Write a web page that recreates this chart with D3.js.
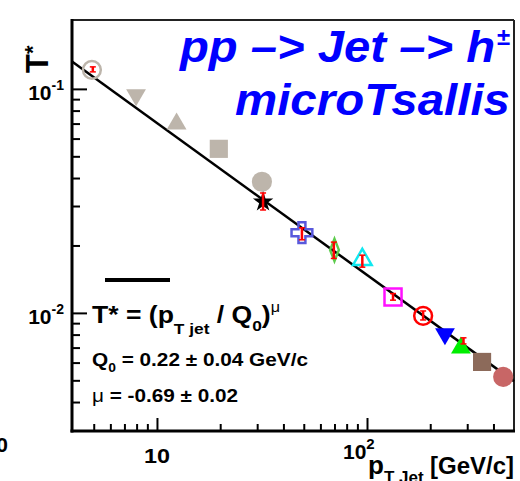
<!DOCTYPE html>
<html>
<head>
<meta charset="utf-8">
<script src="https://cdn.jsdelivr.net/npm/d3@7"></script>
<style>
  body { margin: 0; background: #fff; }
  svg { display: block; font-family: "Liberation Sans", Arial, Helvetica, sans-serif; font-weight: bold; }
</style>
</head>
<body>
<div class="container"></div>
<script>
// data
var pt    = [4.9, 7.95, 12.4, 19.7, 31.6, 32, 49, 70, 95, 133, 185, 235, 280, 353, 445];
var tstar = [0.1216, 0.094, 0.0698, 0.054, 0.0385, 0.0313, 0.0228, 0.0191, 0.0173, 0.01178, 0.0097, 0.00806, 0.00698, 0.00604, 0.00518];
var shapes = ["openCircle", "downTri", "tri", "square", "circle", "star", "openCross", "openDiamond",
              "openTri", "openSquare", "openCircle", "downTri", "tri", "square", "circle"];
var colors = ["#bdb5ab", "#bdb5ab", "#bdb5ab", "#bdb5ab", "#bdb5ab", "#000000", "#5858dc", "#5ccc4c",
              "#10e8f0", "#ff10ff", "#ff0000", "#0000ff", "#00ee00", "#8c6a5a", "#c86666"];

// red error bars [pT, T low, T high]
var errPt = [4.95, 32, 49, 69.5, 95, 133, 185, 288];
var errLo = [0.1191, 0.0288, 0.0212, 0.0175, 0.0160, 0.0114, 0.0093, 0.00727];
var errHi = [0.1254, 0.0343, 0.0240, 0.0207, 0.0181, 0.0122, 0.0102, 0.00774];

// fit line end points
var fitPt = [3.94, 501];
var fitT  = [0.1324, 0.00495];

var xMajor = [10, 100];
var xMinor = [5, 6, 7, 8, 9, 20, 30, 40, 50, 60, 70, 80, 90, 200, 300, 400];
var yMajor = [0.01, 0.1];
var yMinor = [0.004, 0.005, 0.006, 0.007, 0.008, 0.009, 0.02, 0.03, 0.04, 0.05, 0.06, 0.07, 0.08, 0.09];

var W = 520, H = 481;
var L = 72, R = 514, T = 20, B = 431;

var svg = d3.select('.container').append('svg').attr('width', W).attr('height', H);

var x = d3.scaleLog().domain([3.94, 501]).range([L, R]);
var y = d3.scaleLog().domain([0.00297, 0.203]).range([B, T]);

// ticks (inside the frame)
function tickAxis(axis, tr){
  var g = svg.append('g').attr('transform', tr).call(axis);
  g.select('.domain').remove();
  g.selectAll('line').attr('stroke', '#000').attr('stroke-width', 2);
  g.selectAll('text').remove();
  return g;
}
tickAxis(d3.axisRight(y).tickValues(yMinor).tickSize(8), 'translate(' + L + ',0)');
tickAxis(d3.axisRight(y).tickValues(yMajor).tickSize(15), 'translate(' + L + ',0)');
tickAxis(d3.axisTop(x).tickValues(xMinor).tickSize(7), 'translate(0,' + B + ')');
tickAxis(d3.axisTop(x).tickValues(xMajor).tickSize(13), 'translate(0,' + B + ')');

// frame
svg.append('line').attr('x1', L).attr('x2', R).attr('y1', T).attr('y2', T).attr('stroke', '#222').attr('stroke-width', 2);
svg.append('line').attr('x1', R).attr('x2', R).attr('y1', T).attr('y2', B).attr('stroke', '#222').attr('stroke-width', 2);
svg.append('line').attr('x1', L).attr('x2', L).attr('y1', T - 1).attr('y2', B + 1.5).attr('stroke', '#000').attr('stroke-width', 3);
svg.append('line').attr('x1', L - 1.5).attr('x2', R + 1).attr('y1', B).attr('y2', B).attr('stroke', '#000').attr('stroke-width', 3);

// tick labels
var yl = svg.append('g').attr('font-size', 21);
yMajor.forEach(function(v){
  var t = yl.append('text').attr('x', 64).attr('y', y(v) + 11).attr('text-anchor', 'end').text('10');
  t.append('tspan').attr('font-size', 14).attr('dy', -10).text(v === 0.1 ? '-1' : '-2');
});
svg.append('text').attr('x', x(10)).attr('y', 463).attr('text-anchor', 'middle').attr('font-size', 21)
  .attr('textLength', 26).attr('lengthAdjust', 'spacingAndGlyphs').text('10');
var t2 = svg.append('text').attr('x', x(100) - 24).attr('y', 459).attr('font-size', 21).text('10');
t2.append('tspan').attr('font-size', 15).attr('dy', -10).text('2');
// cut off label from the neighbouring pad
svg.append('text').attr('x', 8).attr('y', 452).attr('text-anchor', 'end').attr('font-size', 21).text('10');

// axis titles
var yt = svg.append('text').attr('transform', 'translate(48,73) rotate(-90)').attr('font-size', 31).text('T');
yt.append('tspan').attr('font-size', 22).attr('dy', -8).text('*');
var xt = svg.append('text').attr('x', 368).attr('y', 474).attr('font-size', 26).text('p');
xt.append('tspan').attr('font-size', 17).attr('dy', 9).text('T Jet');
svg.append('text').attr('x', 514).attr('y', 474).attr('text-anchor', 'end').attr('font-size', 24).text('[GeV/c]');

// fit line
svg.append('line')
  .attr('x1', x(fitPt[0])).attr('y1', y(fitT[0]))
  .attr('x2', x(fitPt[1])).attr('y2', y(fitT[1]))
  .attr('stroke', '#000').attr('stroke-width', 2.5);

// markers
var symType = {
  openCircle: d3.symbolCircle, circle: d3.symbolCircle,
  downTri: d3.symbolTriangle, tri: d3.symbolTriangle, openTri: d3.symbolTriangle,
  square: d3.symbolSquare, openSquare: d3.symbolSquare,
  star: d3.symbolStar, openCross: d3.symbolCross, openDiamond: d3.symbolDiamond
};
var symSize = {
  openCircle: 250, circle: 320, downTri: 170, tri: 170, openTri: 150,
  square: 330, openSquare: 290, star: 130, openCross: 240, openDiamond: 120
};
var pts = pt.map(function(p, i){ return {p: p, t: tstar[i], s: shapes[i], c: colors[i]}; });

svg.append('g').selectAll('path').data(pts).enter().append('path')
  .attr('d', function(d){ return d3.symbol().type(symType[d.s]).size(symSize[d.s])(); })
  .attr('transform', function(d){
    var tr = 'translate(' + x(d.p) + ',' + y(d.t) + ')';
    if (d.s === 'downTri') tr += ' rotate(180)';
    if (d.s === 'openDiamond') tr += ' scale(0.75,1.1)';
    return tr;
  })
  .attr('fill', function(d){ return d.s.indexOf('open') === 0 ? 'none' : d.c; })
  .attr('stroke', function(d){ return d.s.indexOf('open') === 0 ? d.c : 'none'; })
  .attr('stroke-width', function(d){ return d.s === 'openDiamond' ? 3 : 2.5; });

// red error bars
var eg = svg.append('g').attr('stroke', '#ff0000').attr('stroke-width', 2.5);
errPt.forEach(function(p, i){
  var cx = x(p), y0 = y(errLo[i]), y1 = y(errHi[i]);
  eg.append('line').attr('x1', cx).attr('x2', cx).attr('y1', y0).attr('y2', y1);
  eg.append('line').attr('x1', cx - 3).attr('x2', cx + 3).attr('y1', y0).attr('y2', y0).attr('stroke-width', 1.5);
  eg.append('line').attr('x1', cx - 3).attr('x2', cx + 3).attr('y1', y1).attr('y2', y1).attr('stroke-width', 1.5);
});

// title
var tt = svg.append('g').attr('fill', '#0000ff').attr('font-style', 'italic').attr('font-size', 44);
tt.append('text').attr('x', 180).attr('y', 62).attr('textLength', 315).attr('lengthAdjust', 'spacingAndGlyphs')
  .text('pp \u2013> Jet \u2013> h');
tt.append('text').attr('x', 497).attr('y', 45).attr('font-size', 24).attr('font-style', 'normal').text('\u00b1');
tt.append('text').attr('x', 235).attr('y', 115).attr('textLength', 275).attr('lengthAdjust', 'spacingAndGlyphs')
  .text('microTsallis');

// legend
svg.append('line').attr('x1', 105).attr('x2', 170).attr('y1', 280).attr('y2', 280).attr('stroke', '#000').attr('stroke-width', 4);
var f1 = svg.append('text').attr('x', 92).attr('y', 323).attr('font-size', 23)
  .attr('textLength', 188).attr('lengthAdjust', 'spacingAndGlyphs');
f1.append('tspan').text('T* = (p');
f1.append('tspan').attr('font-size', 15).attr('dy', 11).text('T jet');
f1.append('tspan').attr('dy', -11).text(' / Q');
f1.append('tspan').attr('font-size', 15).attr('dy', 8).text('0');
f1.append('tspan').attr('dy', -8).text(')');
f1.append('tspan').attr('font-size', 14).attr('font-weight', 'normal').attr('dy', -11).text('\u03bc');

var f2 = svg.append('text').attr('x', 92).attr('y', 366).attr('font-size', 18)
  .attr('textLength', 216).attr('lengthAdjust', 'spacingAndGlyphs');
f2.append('tspan').text('Q');
f2.append('tspan').attr('font-size', 12).attr('dy', 6).text('0');
f2.append('tspan').attr('dy', -6).text(' = 0.22 \u00b1 0.04 GeV/c');

var f3 = svg.append('text').attr('x', 92).attr('y', 402).attr('font-size', 18)
  .attr('textLength', 146).attr('lengthAdjust', 'spacingAndGlyphs');
f3.append('tspan').attr('font-weight', 'normal').text('\u03bc');
f3.append('tspan').text(' = -0.69 \u00b1 0.02');
</script>
</body>
</html>
